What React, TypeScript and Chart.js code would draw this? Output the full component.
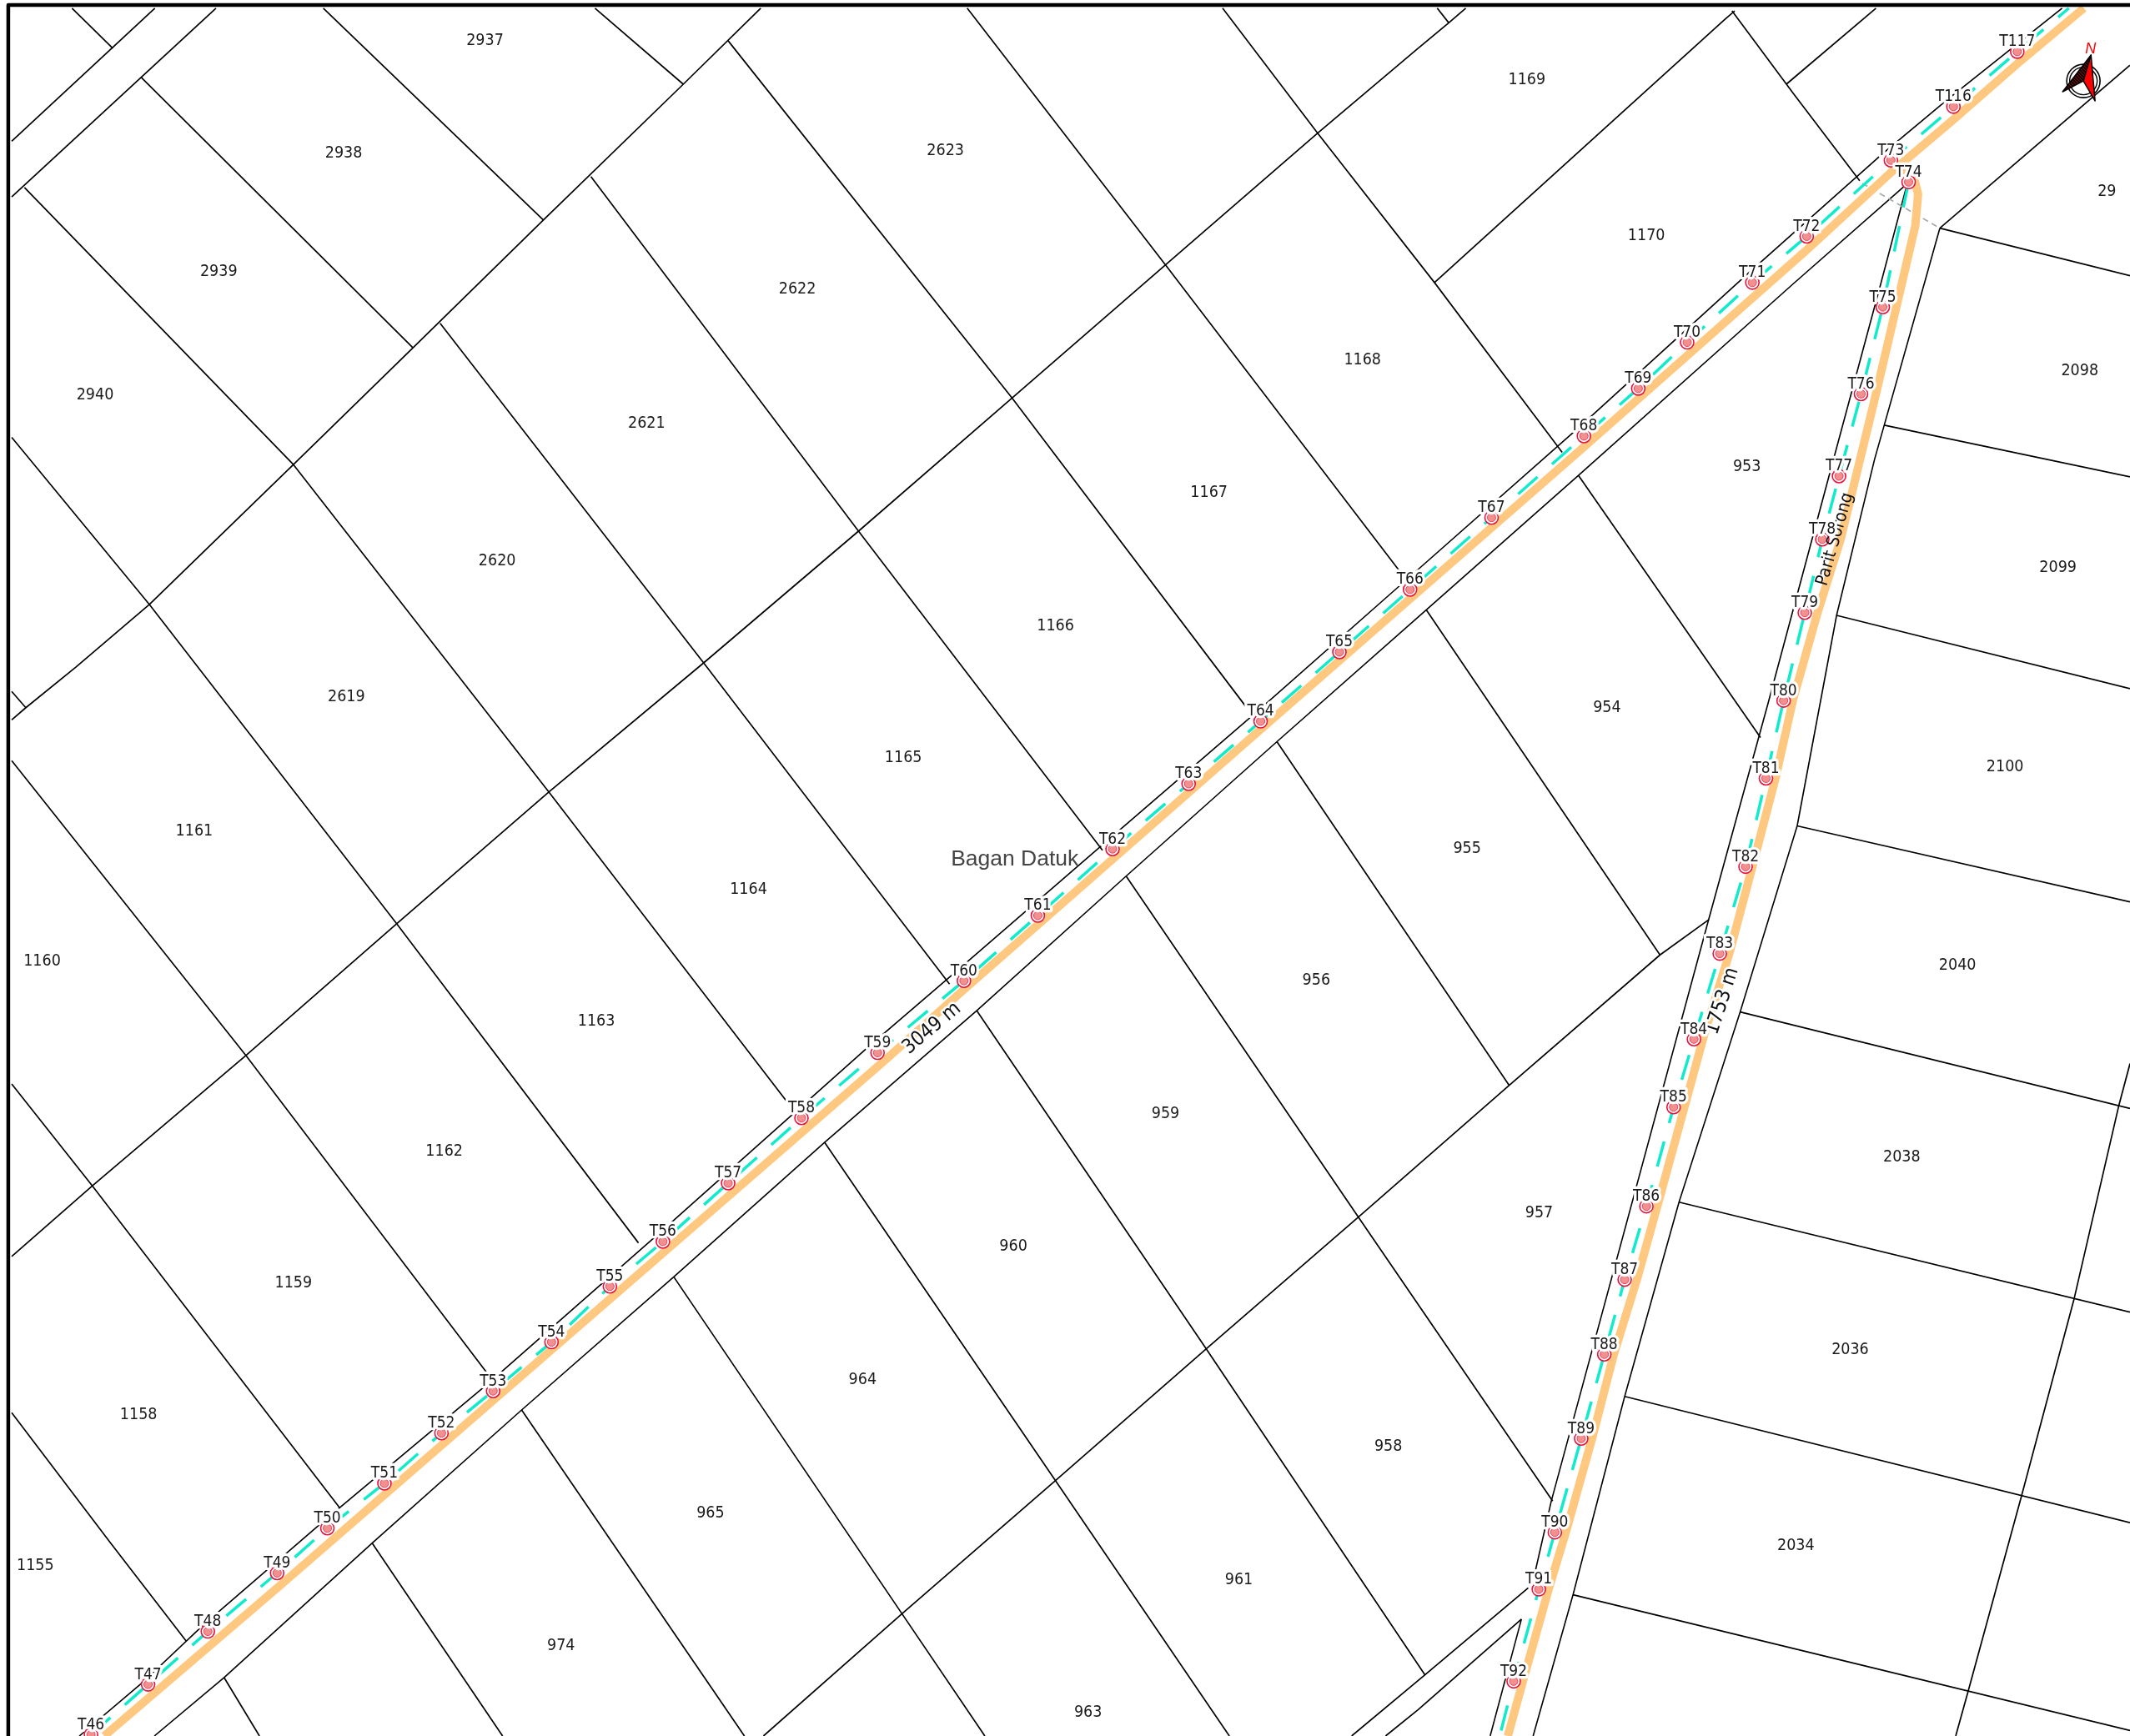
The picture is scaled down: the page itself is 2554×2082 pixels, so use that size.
import React, { useEffect, useRef } from "react";
import { Chart, registerables } from "chart.js";

Chart.register(...registerables);

const W = 2554;
const H = 2082;
const MAP_W = 1568;
const MAP_H = 1278;

// Survey stations
const routeANames = ["T46","T47","T48","T49","T50","T51","T52","T53","T54","T55","T56","T57","T58","T59","T60","T61","T62","T63","T64","T65","T66","T67","T68","T69","T70","T71","T72","T73","T116","T117"];
const routeAX = [67,109,153,204,241,283,325,363,406,449,488,536,590,646,709.6,764,819,875,928,986,1038,1098,1166,1206,1242,1290,1330,1392,1438,1485];
const routeAY = [1277,1240,1201,1158,1125,1092,1055,1024,988,947,914,871,823,775,722,674,625,577,531,480,434,381,321,286,252,208,174,118,78.5,38];
const routeBNames = ["T74","T75","T76","T77","T78","T79","T80","T81","T82","T83","T84","T85","T86","T87","T88","T89","T90","T91","T92"];
const routeBX = [1405,1386,1370,1353.8,1341.5,1328.6,1313,1300,1285,1266,1247,1232,1212,1196,1181,1164,1144.6,1132.8,1114.3];
const routeBY = [134,226,290,350.5,397,451,515.7,573,638,702,765,815,888,942,997,1059,1128,1170,1237.7];

// Parcel numbers
const parcelNames = ["2937","2938","2939","2940","2623","2622","2621","2620","2619","1169","1170","1168","1167","1166","1165","1164","1163","1162","1161","1160","1159","1158","1155","953","954","955","956","959","960","964","965","974","963","961","958","957","29","2098","2099","2100","2040","2038","2036","2034"];
const parcelX = [357,253,161,70,696,587,476,366,255,1124,1212,1003,890,777,665,551,439,327,143,31,216,102,26,1286,1183,1080,969,858,746,635,523,413,801,912,1022,1133,1551,1531,1515,1476,1441,1400,1362,1322];
const parcelY = [29,112,199,290,110,212,311,412,512,58,173,264,362,460,557,654,751,847,611,707,944,1041,1152,343,520,624,721,819,917,1015,1113,1211,1260,1162,1064,892,140,272,417,564,710,851,993,1137];

// Parcel boundaries as [x, y] vertices
const parcelLines: number[][][] = [
  [[8.6,104],[114,6]],
  [[8.6,145],[159,6]],
  [[53,6],[83,35.5]],
  [[104,57],[304,256]],
  [[18,138],[216,342]],
  [[238,6],[400,162]],
  [[438,6],[503,62]],
  [[8.6,530],[19,521],[56,491],[110,445],[216,342],[304,256],[400,162],[503,62],[560,6]],
  [[8.6,925],[68,873],[181,777],[292,680],[404,583],[518,488],[632,391],[745,293],[858,195],[970,98],[1042.5,36.8],[1066.5,16.8],[1079,6]],
  [[1058,6],[1066.5,16.8]],
  [[562,1278],[664,1188],[777,1090],[888,993],[1000,896],[1111,799],[1222,703],[1258,677]],
  [[995,1278],[1049,1233],[1125,1169]],
  [[1020,1278],[1044,1258.6],[1120,1192]],
  [[1056,208],[1270,14],[1277,8]],
  [[1315,62],[1381,6]],
  [[712,6],[858,195],[1030,420]],
  [[536,30],[745,293],[917,520]],
  [[435,130],[632,391],[811.6,626]],
  [[324,238],[518,488],[699,724.5]],
  [[216,342],[404,583],[580,812]],
  [[8.6,322],[110,445],[292,680],[470,915]],
  [[8.6,560],[181,777],[358,1010]],
  [[8.6,798],[68,873],[250,1110]],
  [[8.6,1040],[81.5,1136],[137,1208]],
  [[8.6,509],[19,521]],
  [[900,6],[970,98],[1056,208],[1150,333]],
  [[1275,8],[1320,68.6],[1369,133]],
  [[1162,350],[1296,543]],
  [[1050,449],[1222,703]],
  [[940,546],[1111,799]],
  [[829,645],[1000,896],[1143,1105]],
  [[719,744],[888,993],[1049,1233]],
  [[607,841],[777,1090],[905,1278]],
  [[496,940],[664,1188],[725,1278]],
  [[384,1038],[548,1278]],
  [[274,1136],[370,1278]],
  [[165,1235],[191,1278]],
  [[1428,168],[1568,203]],
  [[1387,313],[1568,351]],
  [[1352,453],[1568,507]],
  [[1323,608],[1568,664]],
  [[1281,745],[1568,816]],
  [[1236,885],[1568,966]],
  [[1196,1028],[1568,1121]],
  [[1158,1174],[1568,1274]],
  [[1568,783],[1559.6,814.6],[1526.9,956],[1488,1101.8],[1449,1244.6],[1439.7,1278]],
];

// Road edges
const roadAUpper = [[58.4,1278],[104.5,1239],[150,1196],[238,1120],[360,1018],[484,909],[640,770],[704,715],[815,619],[924,525],[1034,428],[1162,315],[1286,202],[1386,113],[1434,73],[1518,6]];
const roadALower = [[113.6,1278],[165,1235],[274,1136],[384,1038],[496,940],[607,841],[719,744],[829,645],[940,546],[1050,449],[1162,350],[1320,209],[1402,137]];
const roadARight = [[1428,168],[1568,48]];
const roadBLeft = [[1403,139],[1384.5,209],[1346,352],[1301.6,517.6],[1257,680],[1142,1105],[1129,1162]];
const roadBLeftLower = [[1120,1192],[1097,1278]];
const roadBRight = [[1428,168],[1416.5,209],[1380,338],[1352,453],[1323,608],[1281,745],[1236,885],[1196,1028],[1158,1174],[1128.6,1278]];
const dashedLink = [[1371,135],[1428,168]];
const orangeA = [[76.7,1278],[204,1169],[652,780],[709,729],[928,537],[1166,329],[1330,184],[1392,127],[1438,88],[1485,47],[1534,6]];
const orangeB = [[1398,124],[1408,127],[1412,143],[1410,166],[1400,209],[1381,290],[1355,397],[1338,451],[1320,515],[1307,573],[1290,638],[1273,702],[1255,760],[1240,815],[1220,888],[1205,942],[1188,997],[1172,1059],[1153,1127],[1140,1170],[1121,1238],[1110,1278]];
const tealATop = [[1523,6]];
const tealBBottom = [[1104,1278]];
const frameLine = [[6.1,1278],[6.1,3.7],[1568,3.7]];

// Other text
const placeLabels = [{ text: "Bagan Datuk", x: 747, y: 632 }];
const roadLabels = [
  { text: "3049 m", x: 686, y: 757, angle: -40 },
  { text: "1753 m", x: 1268, y: 737, angle: -72 },
];
const canalLabels = [{ text: "Parit Sorong", x: 1351, y: 397, angle: -74 }];

// Compass
const compassCentre = [[1533.7, 59.6]];
const needleRed = [[1539.3,40.5],[1542.3,74.3],[1533.7,59.6]];
const needleDark = [[1539.3,40.5],[1518.4,67.5],[1533.7,59.6]];
const northLabel = { text: "N", x: 1539, y: 36 };

const toPts = (l: number[][]) => l.map(([x, y]) => ({ x, y }));
const zip = (xs: number[], ys: number[]) => xs.map((x, i) => ({ x, y: ys[i] }));

const line = (pts: { x: number; y: number }[], color: string, width: number, dash?: number[]) => ({
  type: "line" as const,
  data: pts,
  borderColor: color,
  borderWidth: width,
  borderDash: dash ?? [],
  borderCapStyle: "butt" as const,
  borderJoinStyle: "round" as const,
  pointRadius: 0,
  pointHoverRadius: 0,
  tension: 0,
  fill: false,
  spanGaps: true,
});

const markers = (pts: { x: number; y: number }[], radius: number, bg: string, border: string, bw: number) => ({
  type: "scatter" as const,
  data: pts,
  showLine: false,
  pointStyle: "circle" as const,
  pointRadius: radius,
  pointHoverRadius: radius,
  pointBackgroundColor: bg,
  pointBorderColor: border,
  pointBorderWidth: bw,
});

const FONT_MAP = '"DejaVu Sans Condensed", "DejaVu Sans", sans-serif';
const INK = "#1a1a1a";

const mapTextPlugin = {
  id: "mapText",
  afterDatasetsDraw(chart: any) {
    const { ctx, scales } = chart;
    const px = (x: number) => scales.x.getPixelForValue(x);
    const py = (y: number) => scales.y.getPixelForValue(y);
    ctx.save();
    ctx.textAlign = "center";
    ctx.textBaseline = "middle";
    ctx.lineJoin = "round";

    ctx.font = `19.5px ${FONT_MAP}`;
    ctx.fillStyle = INK;
    parcelNames.forEach((n, i) => ctx.fillText(n, px(parcelX[i]), py(parcelY[i]) + 1.5));

    ctx.font = '26.5px "Liberation Sans", sans-serif';
    ctx.fillStyle = "#444444";
    placeLabels.forEach((l) => ctx.fillText(l.text, px(l.x), py(l.y) + 1.5));

    ctx.font = `21px ${FONT_MAP}`;
    ctx.fillStyle = "#111111";
    canalLabels.forEach((l) => {
      ctx.save();
      ctx.translate(px(l.x), py(l.y));
      ctx.rotate((l.angle * Math.PI) / 180);
      ctx.fillText(l.text, 0, 0);
      ctx.restore();
    });

    ctx.font = `24px ${FONT_MAP}`;
    roadLabels.forEach((l) => {
      ctx.save();
      ctx.translate(px(l.x), py(l.y));
      ctx.rotate((l.angle * Math.PI) / 180);
      ctx.strokeStyle = "#ffffff";
      ctx.lineWidth = 5;
      ctx.strokeText(l.text, 0, 0);
      ctx.fillStyle = "#111111";
      ctx.fillText(l.text, 0, 0);
      ctx.restore();
    });

    ctx.font = `19px ${FONT_MAP}`;
    const station = (n: string, x: number, y: number) => {
      ctx.strokeStyle = "#ffffff";
      ctx.lineWidth = 6.5;
      ctx.strokeText(n, px(x), py(y) - 11.5);
      ctx.fillStyle = INK;
      ctx.fillText(n, px(x), py(y) - 11.5);
    };
    routeANames.forEach((n, i) => station(n, routeAX[i], routeAY[i]));
    routeBNames.forEach((n, i) => station(n, routeBX[i], routeBY[i]));

    const poly = (p: number[][], fill: any) => {
      ctx.beginPath();
      p.forEach(([x, y], i) => (i ? ctx.lineTo(px(x), py(y)) : ctx.moveTo(px(x), py(y))));
      ctx.closePath();
      ctx.fillStyle = fill;
      ctx.fill();
      ctx.strokeStyle = "#000000";
      ctx.lineWidth = 1.5;
      ctx.stroke();
    };
    const hatch = document.createElement("canvas");
    hatch.width = 4;
    hatch.height = 4;
    const hc = hatch.getContext("2d")!;
    hc.fillStyle = "#1a0505";
    hc.fillRect(0, 0, 4, 4);
    hc.fillStyle = "#7a1010";
    hc.fillRect(0, 0, 1, 1);
    hc.fillRect(1, 1, 1, 1);
    hc.fillRect(2, 2, 1, 1);
    hc.fillRect(3, 3, 1, 1);
    poly(needleDark, ctx.createPattern(hatch, "repeat"));
    poly(needleRed, "#ff0000");
    ctx.font = 'italic 18px "Liberation Sans", sans-serif';
    ctx.fillStyle = "#ff0000";
    ctx.fillText(northLabel.text, px(northLabel.x), py(northLabel.y));
    ctx.restore();
  },
};

export default function App() {
  const ref = useRef<HTMLCanvasElement>(null);
  useEffect(() => {
    const routeA = zip(routeAX, routeAY);
    const routeB = zip(routeBX, routeBY);
    const tealA = [...routeA, ...toPts(tealATop)];
    const tealB = [...routeB, ...toPts(tealBBottom)];
    const stations = [...routeA, ...routeB];

    // listed bottom to top; Chart.js paints the first dataset last
    const layers: any[] = [
      ...parcelLines.map((l) => line(toPts(l), "#000000", 1.7)),
      line(toPts(roadAUpper), "#000000", 1.6),
      line(toPts(roadALower), "#000000", 1.6),
      line(toPts(roadARight), "#000000", 1.6),
      line(toPts(roadBLeft), "#000000", 1.6),
      line(toPts(roadBLeftLower), "#000000", 1.6),
      line(toPts(roadBRight), "#000000", 1.6),
      line(toPts(dashedLink), "#aaaaaa", 1.8, [7, 5]),
      line(toPts(orangeA), "#FFC880", 10),
      line(toPts(orangeB), "#FFC880", 10),
      line(tealA, "#10EBCB", 3.5, [31, 23]),
      line(tealB, "#10EBCB", 3.5, [31, 23]),
      markers(stations, 8, "#ffffff", "#E8103C", 1.6),
      markers(stations, 5, "#F29090", "#F04058", 1),
      markers(toPts(compassCentre), 20, "rgba(0,0,0,0)", "#000000", 1.6),
      markers(toPts(compassCentre), 16.5, "rgba(0,0,0,0)", "#000000", 1.4),
      line(toPts(frameLine), "#000000", 4.5),
    ];

    const chart = new Chart(ref.current!, {
      type: "scatter",
      data: { datasets: layers.reverse() },
      options: {
        animation: false,
        responsive: false,
        devicePixelRatio: 1,
        layout: { padding: 0, autoPadding: false },
        events: [],
        plugins: { legend: { display: false }, tooltip: { enabled: false }, title: { display: false } },
        scales: {
          x: { type: "linear", display: false, min: 0, max: MAP_W },
          y: { type: "linear", display: false, min: 0, max: MAP_H, reverse: true },
        },
      },
      plugins: [mapTextPlugin],
    } as any);
    return () => chart.destroy();
  }, []);
  return (
    <canvas
      ref={ref}
      width={W}
      height={H}
      style={{ position: "fixed", left: 0, top: 0, width: W, height: H, display: "block", background: "#ffffff" }}
    />
  );
}
